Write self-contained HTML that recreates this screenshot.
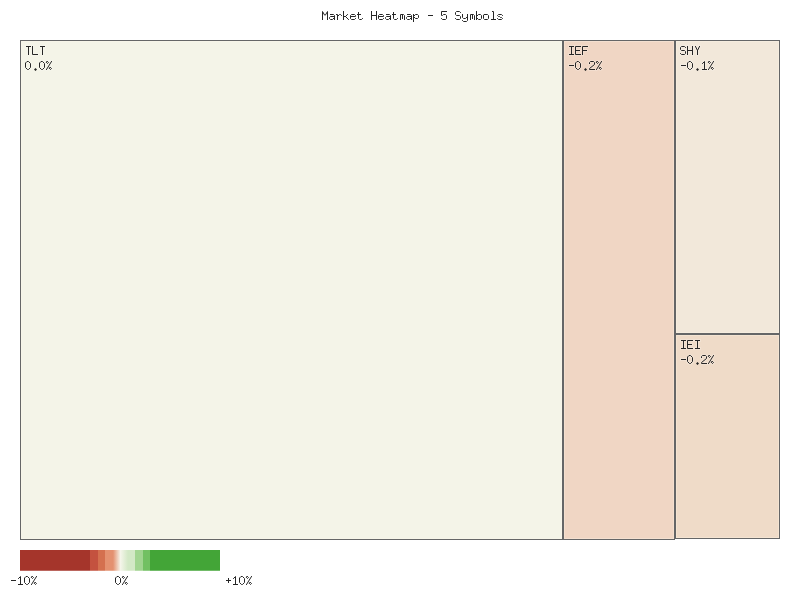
<!DOCTYPE html>
<html>
<head>
<meta charset="utf-8">
<title>Market Heatmap - 5 Symbols</title>
<style>
html,body{margin:0;padding:0;background:#fff;}
body{width:800px;height:600px;position:relative;overflow:hidden;font-family:"Liberation Mono",monospace;}
.cell{position:absolute;box-sizing:border-box;border:1px solid #656667;box-shadow:inset 0 0 0 1px rgba(255,248,235,0.3);}
#legend{position:absolute;left:20px;top:550px;width:200px;height:21px;}
.t{position:absolute;font-family:"Liberation Mono",monospace;font-size:11.667px;line-height:14px;height:14px;color:transparent;white-space:pre;transform-origin:0 0;transform:scale(1,1.17);}
#txt{position:absolute;left:0;top:0;width:800px;height:600px;}
</style>
</head>
<body>
<div class="cell" style="left:20px;top:40px;width:543px;height:500px;background:#f4f4e8;"></div>
<div class="cell" style="left:563px;top:40px;width:112px;height:500px;background:#f0d6c4;"></div>
<div class="cell" style="left:675px;top:40px;width:105px;height:294px;background:#f2e8da;"></div>
<div class="cell" style="left:675px;top:334px;width:105px;height:205px;background:#efdbc8;"></div>

<svg id="legend" width="200" height="21" viewBox="0 0 200 21">
<defs>
<linearGradient id="g1" gradientUnits="userSpaceOnUse" x1="93" y1="0" x2="108" y2="0"><stop offset="0" stop-color="#e49170"/><stop offset="0.5" stop-color="#f5f5ea"/><stop offset="1" stop-color="#d3e8c6"/></linearGradient>
</defs>
<rect x="0" y="0" width="70" height="20.75" fill="#a5352b"/>
<rect x="70" y="0" width="8" height="20.75" fill="#c4523f"/>
<rect x="78" y="0" width="7" height="20.75" fill="#d4704f"/>
<rect x="85" y="0" width="8" height="20.75" fill="#e49170"/>
<rect x="93" y="0" width="15" height="20.75" fill="url(#g1)"/>
<rect x="108" y="0" width="7" height="20.75" fill="#d3e8c6"/>
<rect x="115" y="0" width="8" height="20.75" fill="#a1d490"/>
<rect x="123" y="0" width="7" height="20.75" fill="#72c062"/>
<rect x="130" y="0" width="70" height="20.75" fill="#43a537"/>
</svg>

<svg id="txt" width="800" height="600" viewBox="0 0 800 600" aria-label="Market Heatmap - 5 Symbols: TLT 0.0%, IEF -0.2%, SHY -0.1%, IEI -0.2%; legend -10% 0% +10%">
<path fill="none" stroke="#fff" stroke-opacity="0.2" stroke-width="3" stroke-linecap="square" stroke-linejoin="round" d="M26.5,46.5 L30.5,46.5 M28.5,46.5 L28.5,54.5 M32.5,46.5 L32.5,54.5 L37.5,54.5 M40.5,46.5 L44.5,46.5 M42.5,46.5 L42.5,54.5 M27.5,61.5 L28.5,61.5 L30.5,63.5 L30.5,67.5 L28.5,69.5 L27.5,69.5 L25.5,67.5 L25.5,63.5 Z M41.5,61.5 L42.5,61.5 L44.5,63.5 L44.5,67.5 L42.5,69.5 L41.5,69.5 L39.5,67.5 L39.5,63.5 Z M51.5,61.5 L46.5,69.5 M47.5,61.5 L48.5,62.5 L47.5,63.5 L46.5,62.5 Z M50.5,67.5 L51.5,68.5 L50.5,69.5 L49.5,68.5 Z M569.5,46.5 L573.5,46.5 M571.5,46.5 L571.5,54.5 M569.5,54.5 L573.5,54.5 M580.5,46.5 L575.5,46.5 L575.5,54.5 L580.5,54.5 M575.5,50.5 L579.5,50.5 M587.5,46.5 L582.5,46.5 L582.5,54.5 M582.5,50.5 L586.5,50.5 M569.5,65.5 L573.5,65.5 M577.5,61.5 L578.5,61.5 L580.5,63.5 L580.5,67.5 L578.5,69.5 L577.5,69.5 L575.5,67.5 L575.5,63.5 Z M589.5,63.5 L589.5,62.5 L590.5,61.5 L593.5,61.5 L594.5,62.5 L594.5,64.5 L589.5,68.5 L589.5,69.5 L594.5,69.5 M601.5,61.5 L596.5,69.5 M597.5,61.5 L598.5,62.5 L597.5,63.5 L596.5,62.5 Z M600.5,67.5 L601.5,68.5 L600.5,69.5 L599.5,68.5 Z M685.5,47.5 L684.5,46.5 L681.5,46.5 L680.5,47.5 L680.5,49.5 L681.5,50.5 L684.5,50.5 L685.5,51.5 L685.5,53.5 L684.5,54.5 L681.5,54.5 L680.5,53.5 M687.5,46.5 L687.5,54.5 M692.5,46.5 L692.5,54.5 M687.5,50.5 L692.5,50.5 M695.5,46.5 L697.5,50.5 L699.5,46.5 M697.5,50.5 L697.5,54.5 M681.5,65.5 L685.5,65.5 M689.5,61.5 L690.5,61.5 L692.5,63.5 L692.5,67.5 L690.5,69.5 L689.5,69.5 L687.5,67.5 L687.5,63.5 Z M702.5,63.5 L704.5,61.5 L704.5,69.5 M702.5,69.5 L706.5,69.5 M713.5,61.5 L708.5,69.5 M709.5,61.5 L710.5,62.5 L709.5,63.5 L708.5,62.5 Z M712.5,67.5 L713.5,68.5 L712.5,69.5 L711.5,68.5 Z M681.5,340.5 L685.5,340.5 M683.5,340.5 L683.5,348.5 M681.5,348.5 L685.5,348.5 M692.5,340.5 L687.5,340.5 L687.5,348.5 L692.5,348.5 M687.5,344.5 L691.5,344.5 M695.5,340.5 L699.5,340.5 M697.5,340.5 L697.5,348.5 M695.5,348.5 L699.5,348.5 M681.5,359.5 L685.5,359.5 M689.5,355.5 L690.5,355.5 L692.5,357.5 L692.5,361.5 L690.5,363.5 L689.5,363.5 L687.5,361.5 L687.5,357.5 Z M701.5,357.5 L701.5,356.5 L702.5,355.5 L705.5,355.5 L706.5,356.5 L706.5,358.5 L701.5,362.5 L701.5,363.5 L706.5,363.5 M713.5,355.5 L708.5,363.5 M709.5,355.5 L710.5,356.5 L709.5,357.5 L708.5,356.5 Z M712.5,361.5 L713.5,362.5 L712.5,363.5 L711.5,362.5 Z"/>
<path fill="none" stroke="#262626" stroke-width="1" stroke-linecap="square" stroke-linejoin="miter" stroke-miterlimit="2" d="M322.5,19.5 L322.5,11.5 L324.6,15.1 L325.4,15.1 L327.5,11.5 L327.5,19.5 M330.5,14.5 L333.5,14.5 L334.5,15.5 L334.5,19.5 M334.5,16.5 L330.5,16.5 L329.5,17.5 L329.5,18.5 L330.5,19.5 L332.5,19.5 L334.5,17.5 M336.5,14.5 L337.5,14.5 L337.5,19.5 M337.5,16.5 L339.5,14.5 L340.5,14.5 L341.5,15.5 M343.5,11.5 L343.5,19.5 M347.5,14.5 L345.5,16.5 L343.5,16.5 M345.5,16.5 L348.5,19.5 M350.5,16.5 L355.5,16.5 L355.5,15.5 L354.5,14.5 L351.5,14.5 L350.5,15.5 L350.5,18.5 L351.5,19.5 L354.5,19.5 L355.5,18.5 M358.5,12.5 L358.5,18.5 L359.5,19.5 L361.5,19.5 L362.5,18.5 M357.5,14.5 L360.5,14.5 M371.5,11.5 L371.5,19.5 M376.5,11.5 L376.5,19.5 M371.5,15.5 L376.5,15.5 M378.5,16.5 L383.5,16.5 L383.5,15.5 L382.5,14.5 L379.5,14.5 L378.5,15.5 L378.5,18.5 L379.5,19.5 L382.5,19.5 L383.5,18.5 M386.5,14.5 L389.5,14.5 L390.5,15.5 L390.5,19.5 M390.5,16.5 L386.5,16.5 L385.5,17.5 L385.5,18.5 L386.5,19.5 L388.5,19.5 L390.5,17.5 M393.5,12.5 L393.5,18.5 L394.5,19.5 L396.5,19.5 L397.5,18.5 M392.5,14.5 L395.5,14.5 M400.5,19.5 L400.5,14.5 L403.5,14.5 L404.5,15.5 L404.5,19.5 M402.5,14.5 L402.5,18.5 M407.5,14.5 L410.5,14.5 L411.5,15.5 L411.5,19.5 M411.5,16.5 L407.5,16.5 L406.5,17.5 L406.5,18.5 L407.5,19.5 L409.5,19.5 L411.5,17.5 M413.5,14.5 L413.5,21.5 M413.5,16.5 L415.5,14.5 L417.5,14.5 L418.5,15.5 L418.5,17.5 L417.5,18.5 L415.5,18.5 L413.5,16.5 M428.5,15.5 L432.5,15.5 M446.5,11.5 L441.5,11.5 L441.5,15.5 L442.5,15.5 L443.5,14.5 L445.5,14.5 L446.5,15.5 L446.5,18.5 L445.5,19.5 L442.5,19.5 L441.5,18.5 M460.5,12.5 L459.5,11.5 L456.5,11.5 L455.5,12.5 L455.5,14.5 L456.5,15.5 L459.5,15.5 L460.5,16.5 L460.5,18.5 L459.5,19.5 L456.5,19.5 L455.5,18.5 M462.5,14.5 L462.5,17.5 L463.5,18.5 L465.5,18.5 L467.5,16.5 M467.5,14.5 L467.5,20.5 L466.5,21.5 L463.5,21.5 L462.5,20.5 M470.5,19.5 L470.5,14.5 L473.5,14.5 L474.5,15.5 L474.5,19.5 M472.5,14.5 L472.5,18.5 M476.5,11.5 L476.5,19.5 M476.5,16.5 L478.5,14.5 L480.5,14.5 L481.5,15.5 L481.5,18.5 L480.5,19.5 L478.5,19.5 L476.5,17.5 M484.5,14.5 L487.5,14.5 L488.5,15.5 L488.5,18.5 L487.5,19.5 L484.5,19.5 L483.5,18.5 L483.5,15.5 Z M492.5,11.5 L493.5,11.5 L493.5,19.5 M491.5,19.5 L495.5,19.5 M502.5,15.5 L501.5,14.5 L498.5,14.5 L497.5,15.5 L498.5,16.5 L499.5,16.5 L500.5,17.5 L501.5,17.5 L502.5,18.5 L501.5,19.5 L498.5,19.5 L497.5,18.5 M26.5,46.5 L30.5,46.5 M28.5,46.5 L28.5,54.5 M32.5,46.5 L32.5,54.5 L37.5,54.5 M40.5,46.5 L44.5,46.5 M42.5,46.5 L42.5,54.5 M27.5,61.5 L28.5,61.5 L30.5,63.5 L30.5,67.5 L28.5,69.5 L27.5,69.5 L25.5,67.5 L25.5,63.5 Z M41.5,61.5 L42.5,61.5 L44.5,63.5 L44.5,67.5 L42.5,69.5 L41.5,69.5 L39.5,67.5 L39.5,63.5 Z M51.5,61.5 L46.5,69.5 M47.5,61.5 L48.5,62.5 L47.5,63.5 L46.5,62.5 Z M50.5,67.5 L51.5,68.5 L50.5,69.5 L49.5,68.5 Z M569.5,46.5 L573.5,46.5 M571.5,46.5 L571.5,54.5 M569.5,54.5 L573.5,54.5 M580.5,46.5 L575.5,46.5 L575.5,54.5 L580.5,54.5 M575.5,50.5 L579.5,50.5 M587.5,46.5 L582.5,46.5 L582.5,54.5 M582.5,50.5 L586.5,50.5 M569.5,65.5 L573.5,65.5 M577.5,61.5 L578.5,61.5 L580.5,63.5 L580.5,67.5 L578.5,69.5 L577.5,69.5 L575.5,67.5 L575.5,63.5 Z M589.5,63.5 L589.5,62.5 L590.5,61.5 L593.5,61.5 L594.5,62.5 L594.5,64.5 L589.5,68.5 L589.5,69.5 L594.5,69.5 M601.5,61.5 L596.5,69.5 M597.5,61.5 L598.5,62.5 L597.5,63.5 L596.5,62.5 Z M600.5,67.5 L601.5,68.5 L600.5,69.5 L599.5,68.5 Z M685.5,47.5 L684.5,46.5 L681.5,46.5 L680.5,47.5 L680.5,49.5 L681.5,50.5 L684.5,50.5 L685.5,51.5 L685.5,53.5 L684.5,54.5 L681.5,54.5 L680.5,53.5 M687.5,46.5 L687.5,54.5 M692.5,46.5 L692.5,54.5 M687.5,50.5 L692.5,50.5 M695.5,46.5 L697.5,50.5 L699.5,46.5 M697.5,50.5 L697.5,54.5 M681.5,65.5 L685.5,65.5 M689.5,61.5 L690.5,61.5 L692.5,63.5 L692.5,67.5 L690.5,69.5 L689.5,69.5 L687.5,67.5 L687.5,63.5 Z M702.5,63.5 L704.5,61.5 L704.5,69.5 M702.5,69.5 L706.5,69.5 M713.5,61.5 L708.5,69.5 M709.5,61.5 L710.5,62.5 L709.5,63.5 L708.5,62.5 Z M712.5,67.5 L713.5,68.5 L712.5,69.5 L711.5,68.5 Z M681.5,340.5 L685.5,340.5 M683.5,340.5 L683.5,348.5 M681.5,348.5 L685.5,348.5 M692.5,340.5 L687.5,340.5 L687.5,348.5 L692.5,348.5 M687.5,344.5 L691.5,344.5 M695.5,340.5 L699.5,340.5 M697.5,340.5 L697.5,348.5 M695.5,348.5 L699.5,348.5 M681.5,359.5 L685.5,359.5 M689.5,355.5 L690.5,355.5 L692.5,357.5 L692.5,361.5 L690.5,363.5 L689.5,363.5 L687.5,361.5 L687.5,357.5 Z M701.5,357.5 L701.5,356.5 L702.5,355.5 L705.5,355.5 L706.5,356.5 L706.5,358.5 L701.5,362.5 L701.5,363.5 L706.5,363.5 M713.5,355.5 L708.5,363.5 M709.5,355.5 L710.5,356.5 L709.5,357.5 L708.5,356.5 Z M712.5,361.5 L713.5,362.5 L712.5,363.5 L711.5,362.5 Z M11.5,580.5 L15.5,580.5 M18.5,578.5 L20.5,576.5 L20.5,584.5 M18.5,584.5 L22.5,584.5 M26.5,576.5 L27.5,576.5 L29.5,578.5 L29.5,582.5 L27.5,584.5 L26.5,584.5 L24.5,582.5 L24.5,578.5 Z M36.5,576.5 L31.5,584.5 M32.5,576.5 L33.5,577.5 L32.5,578.5 L31.5,577.5 Z M35.5,582.5 L36.5,583.5 L35.5,584.5 L34.5,583.5 Z M117.5,576.5 L118.5,576.5 L120.5,578.5 L120.5,582.5 L118.5,584.5 L117.5,584.5 L115.5,582.5 L115.5,578.5 Z M127.5,576.5 L122.5,584.5 M123.5,576.5 L124.5,577.5 L123.5,578.5 L122.5,577.5 Z M126.5,582.5 L127.5,583.5 L126.5,584.5 L125.5,583.5 Z M226.5,580.5 L230.5,580.5 M228.5,578.5 L228.5,582.5 M233.5,578.5 L235.5,576.5 L235.5,584.5 M233.5,584.5 L237.5,584.5 M241.5,576.5 L242.5,576.5 L244.5,578.5 L244.5,582.5 L242.5,584.5 L241.5,584.5 L239.5,582.5 L239.5,578.5 Z M251.5,576.5 L246.5,584.5 M247.5,576.5 L248.5,577.5 L247.5,578.5 L246.5,577.5 Z M250.5,582.5 L251.5,583.5 L250.5,584.5 L249.5,583.5 Z"/>
<path fill="#262626" stroke="none" d="M35.5,68 L37,69.5 L35.5,71 L34,69.5 Z M585.5,68 L587,69.5 L585.5,71 L584,69.5 Z M697.5,68 L699,69.5 L697.5,71 L696,69.5 Z M697.5,362 L699,363.5 L697.5,365 L696,363.5 Z"/>
</svg>
<div class="t" style="left:322px;top:8px;">Market Heatmap - 5 Symbols</div>
<div class="t" style="left:25px;top:43px;">TLT</div>
<div class="t" style="left:25px;top:58px;">0.0%</div>
<div class="t" style="left:568px;top:43px;">IEF</div>
<div class="t" style="left:568px;top:58px;">-0.2%</div>
<div class="t" style="left:680px;top:43px;">SHY</div>
<div class="t" style="left:680px;top:58px;">-0.1%</div>
<div class="t" style="left:680px;top:337px;">IEI</div>
<div class="t" style="left:680px;top:352px;">-0.2%</div>
<div class="t" style="left:10px;top:573px;">-10%</div>
<div class="t" style="left:115px;top:573px;">0%</div>
<div class="t" style="left:225px;top:573px;">+10%</div>
</body>
</html>
